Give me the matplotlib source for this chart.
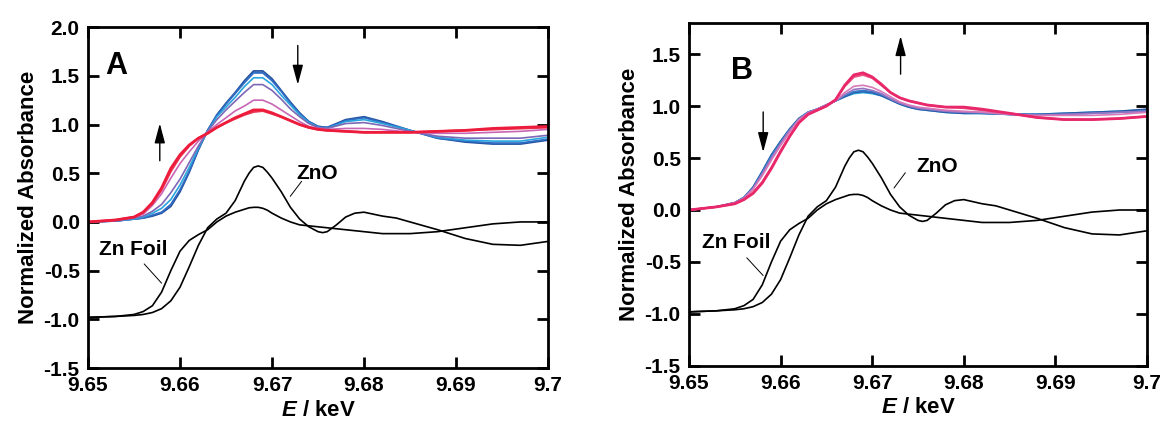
import numpy as np
import matplotlib
matplotlib.use("Agg")
import matplotlib.pyplot as plt

plt.rcParams['font.family'] = ['Liberation Sans', 'DejaVu Sans']
plt.rcParams['font.weight'] = 'bold'
plt.rcParams['mathtext.fontset'] = 'custom'
plt.rcParams['mathtext.it'] = 'Liberation Sans:italic:bold'
plt.rcParams['mathtext.rm'] = 'Liberation Sans:bold'

# energy grid (keV) shared by the sample spectra
energy = [9.650, 9.653, 9.655, 9.656, 9.657, 9.658, 9.659, 9.660, 9.661, 9.662,
          9.663, 9.664, 9.665, 9.666, 9.667, 9.668, 9.669, 9.670, 9.671, 9.672,
          9.673, 9.674, 9.675, 9.676, 9.678, 9.680, 9.682, 9.685, 9.688, 9.691,
          9.694, 9.697, 9.700]

# panel A spectra (blue -> red)
a_dblue = [0.00, 0.01, 0.03, 0.04, 0.06, 0.09, 0.16, 0.31, 0.51, 0.74, 0.94, 1.10, 1.22, 1.33, 1.45, 1.55, 1.55,
           1.47, 1.35, 1.23, 1.12, 1.03, 0.98, 0.97, 1.05, 1.08, 1.03, 0.94, 0.86, 0.82, 0.80, 0.80, 0.84]
a_blue = [0.00, 0.01, 0.03, 0.04, 0.07, 0.10, 0.18, 0.33, 0.52, 0.75, 0.94, 1.09, 1.21, 1.32, 1.43, 1.53, 1.53,
          1.45, 1.34, 1.22, 1.11, 1.03, 0.98, 0.97, 1.04, 1.07, 1.02, 0.94, 0.86, 0.83, 0.81, 0.81, 0.85]
a_cyan = [0.00, 0.01, 0.03, 0.05, 0.09, 0.14, 0.23, 0.38, 0.56, 0.76, 0.93, 1.08, 1.18, 1.28, 1.39, 1.48, 1.48,
          1.41, 1.30, 1.20, 1.10, 1.02, 0.97, 0.96, 1.03, 1.05, 1.01, 0.94, 0.87, 0.84, 0.83, 0.83, 0.87]
a_purple = [0.00, 0.01, 0.04, 0.06, 0.11, 0.18, 0.30, 0.44, 0.61, 0.78, 0.93, 1.05, 1.15, 1.24, 1.33, 1.41, 1.41,
            1.35, 1.26, 1.16, 1.08, 1.01, 0.97, 0.96, 1.01, 1.02, 0.99, 0.93, 0.88, 0.86, 0.86, 0.86, 0.89]
a_pink = [0.00, 0.02, 0.05, 0.08, 0.17, 0.29, 0.45, 0.60, 0.72, 0.83, 0.92, 1.00, 1.07, 1.14, 1.19, 1.25, 1.25,
          1.21, 1.15, 1.09, 1.03, 0.98, 0.96, 0.95, 0.96, 0.96, 0.95, 0.92, 0.91, 0.91, 0.92, 0.93, 0.95]
a_red2 = [0.00, 0.02, 0.05, 0.10, 0.19, 0.33, 0.52, 0.67, 0.78, 0.86, 0.91, 0.97, 1.02, 1.06, 1.10, 1.13, 1.14,
          1.11, 1.08, 1.04, 1.00, 0.97, 0.95, 0.94, 0.93, 0.92, 0.92, 0.92, 0.93, 0.94, 0.95, 0.96, 0.97]
a_red = [0.00, 0.02, 0.05, 0.10, 0.20, 0.35, 0.55, 0.69, 0.79, 0.86, 0.91, 0.97, 1.02, 1.07, 1.11, 1.15, 1.15,
         1.12, 1.08, 1.04, 1.00, 0.97, 0.95, 0.94, 0.93, 0.92, 0.92, 0.92, 0.93, 0.94, 0.96, 0.97, 0.98]

# panel B spectra (blue -> red)
b_cyan = [0.00, 0.03, 0.07, 0.12, 0.22, 0.37, 0.53, 0.66, 0.78, 0.88, 0.94, 0.97, 1.01, 1.05, 1.09, 1.12, 1.13,
          1.12, 1.10, 1.06, 1.02, 0.99, 0.97, 0.96, 0.94, 0.93, 0.93, 0.92, 0.92, 0.93, 0.94, 0.95, 0.96]
b_dblue = [0.00, 0.03, 0.07, 0.12, 0.22, 0.37, 0.53, 0.66, 0.78, 0.88, 0.94, 0.97, 1.01, 1.05, 1.09, 1.13, 1.14,
           1.13, 1.10, 1.06, 1.02, 0.99, 0.97, 0.96, 0.94, 0.93, 0.93, 0.92, 0.92, 0.93, 0.94, 0.95, 0.97]
b_blue = [0.00, 0.03, 0.07, 0.12, 0.21, 0.36, 0.52, 0.65, 0.77, 0.88, 0.94, 0.97, 1.01, 1.05, 1.10, 1.14, 1.15,
          1.14, 1.11, 1.07, 1.03, 1.00, 0.98, 0.97, 0.95, 0.94, 0.93, 0.92, 0.92, 0.92, 0.93, 0.94, 0.95]
b_purple = [0.00, 0.03, 0.07, 0.12, 0.21, 0.35, 0.50, 0.64, 0.77, 0.87, 0.94, 0.97, 1.01, 1.05, 1.11, 1.16, 1.17,
            1.15, 1.12, 1.07, 1.03, 1.00, 0.98, 0.97, 0.95, 0.94, 0.94, 0.92, 0.91, 0.92, 0.93, 0.94, 0.95]
b_pink = [0.00, 0.03, 0.07, 0.11, 0.20, 0.33, 0.48, 0.62, 0.75, 0.87, 0.93, 0.97, 1.01, 1.05, 1.13, 1.19, 1.20,
          1.18, 1.14, 1.09, 1.04, 1.01, 0.99, 0.98, 0.96, 0.95, 0.94, 0.92, 0.91, 0.91, 0.91, 0.92, 0.94]
b_red2 = [0.00, 0.03, 0.06, 0.10, 0.17, 0.27, 0.41, 0.57, 0.71, 0.84, 0.92, 0.96, 1.00, 1.06, 1.19, 1.28, 1.30,
          1.27, 1.20, 1.13, 1.08, 1.05, 1.03, 1.01, 0.99, 0.98, 0.96, 0.93, 0.89, 0.87, 0.87, 0.88, 0.90]
b_red = [0.00, 0.03, 0.06, 0.10, 0.16, 0.26, 0.40, 0.56, 0.71, 0.84, 0.92, 0.96, 1.00, 1.06, 1.20, 1.30, 1.32,
         1.28, 1.21, 1.13, 1.08, 1.05, 1.03, 1.01, 0.99, 0.99, 0.97, 0.93, 0.89, 0.87, 0.87, 0.88, 0.90]

# reference spectra (offset by -1), finer energy grid
ref_energy = [9.650, 9.653, 9.655, 9.656, 9.657, 9.658, 9.659, 9.660, 9.661, 9.662, 9.663, 9.664, 9.665,
              9.666, 9.667, 9.6675, 9.668, 9.6685, 9.669, 9.6695, 9.670, 9.671, 9.672, 9.673, 9.674, 9.675,
              9.6755, 9.676, 9.677, 9.678, 9.679, 9.680, 9.681, 9.682, 9.6835, 9.685, 9.688, 9.691, 9.694,
              9.697, 9.700]
zno = [-0.98, -0.97, -0.96, -0.95, -0.93, -0.89, -0.81, -0.67, -0.46, -0.24, -0.06, 0.03, 0.09,
       0.22, 0.42, 0.50, 0.56, 0.575, 0.56, 0.51, 0.45, 0.31, 0.15, 0.03, -0.05, -0.10,
       -0.11, -0.10, -0.03, 0.05, 0.09, 0.10, 0.08, 0.06, 0.04, 0.00, -0.08, -0.17, -0.23,
       -0.24, -0.20]
zn_foil = [-0.98, -0.97, -0.95, -0.92, -0.86, -0.72, -0.50, -0.30, -0.19, -0.13, -0.08, 0.00, 0.06,
           0.10, 0.13, 0.145, 0.15, 0.15, 0.14, 0.12, 0.09, 0.04, 0.00, -0.03, -0.04, -0.05,
           -0.055, -0.06, -0.07, -0.08, -0.09, -0.10, -0.11, -0.12, -0.12, -0.12, -0.10, -0.06, -0.02,
           0.00, 0.00]

xticks = [9.65, 9.66, 9.67, 9.68, 9.69, 9.70]
xticklabels = ['9.65', '9.66', '9.67', '9.68', '9.69', '9.7']

a_series = [(a_dblue, '#24509f', 1.3), (a_blue, '#2f6cc2', 1.3), (a_cyan, '#2aa4de', 1.2),
            (a_purple, '#7d68b6', 1.2), (a_pink, '#c866b6', 1.2), (a_red2, '#ec3a55', 1.6),
            (a_red, '#ee1c3c', 2.0)]
b_series = [(b_cyan, '#2eaae2', 1.3), (b_dblue, '#2a5aa8', 1.3), (b_blue, '#3a7cc8', 1.2),
            (b_purple, '#9474c2', 1.2), (b_pink, '#d678ba', 1.2), (b_red2, '#ec5080', 1.5),
            (b_red, '#e8286a', 2.0)]

fig = plt.figure(figsize=(11.66, 4.24), dpi=100)
axA = fig.add_axes([0.0755, 0.132, 0.3945, 0.804])
axB = fig.add_axes([0.5909, 0.137, 0.3928, 0.809])


def setup(ax, ylim, yticks):
    ax.set_xlim(9.65, 9.70)
    ax.set_ylim(*ylim)
    ax.set_xticks(xticks)
    ax.set_xticklabels(xticklabels)
    ax.set_yticks(yticks)
    ax.set_yticklabels(['%.1f' % v for v in yticks])
    ax.tick_params(direction='in', length=8, width=2, labelsize=15, top=True, right=True, pad=6)
    for s in ax.spines.values():
        s.set_linewidth(2)
    ax.set_xlabel(r'$\it{E}$ / keV', fontsize=16, fontweight='bold', labelpad=3)
    ax.set_ylabel('Normalized Absorbance', fontsize=16, fontweight='bold', labelpad=3)


for ax, series in ((axA, a_series), (axB, b_series)):
    for y, c, lw in series:
        ax.plot(energy, y, color=c, lw=lw)
    ax.plot(ref_energy, zno, color='black', lw=1.2)
    ax.plot(ref_energy, zn_foil, color='black', lw=1.2)

setup(axA, (-1.5, 2.0), [-1.5, -1.0, -0.5, 0.0, 0.5, 1.0, 1.5, 2.0])
setup(axB, (-1.5, 1.8), [-1.5, -1.0, -0.5, 0.0, 0.5, 1.0, 1.5])

arrow = dict(arrowstyle='-|>,head_length=0.6,head_width=0.16', color='black', lw=1.0, mutation_scale=20)
leader = dict(arrowstyle='-', color='black', lw=0.7)

# panel A labels and arrows
axA.text(9.6531, 1.60, 'A', fontsize=22, fontweight='bold', ha='center', va='center')
axA.annotate('', xy=(9.6578, 1.04), xytext=(9.6578, 0.60), arrowprops=arrow)
axA.annotate('', xy=(9.6728, 1.38), xytext=(9.6728, 1.84), arrowprops=arrow)
axA.text(9.6749, 0.50, 'ZnO', fontsize=15, fontweight='bold', ha='center', va='center')
axA.annotate('', xy=(9.6718, 0.24), xytext=(9.6734, 0.44), arrowprops=leader)
axA.text(9.6549, -0.28, 'Zn Foil', fontsize=15, fontweight='bold', ha='center', va='center')
axA.annotate('', xy=(9.6582, -0.65), xytext=(9.6559, -0.41), arrowprops=leader)

# panel B labels and arrows
axB.text(9.6558, 1.34, 'B', fontsize=22, fontweight='bold', ha='center', va='center')
axB.annotate('', xy=(9.6581, 0.53), xytext=(9.6581, 0.97), arrowprops=arrow)
axB.annotate('', xy=(9.6731, 1.70), xytext=(9.6731, 1.28), arrowprops=arrow)
axB.text(9.6771, 0.42, 'ZnO', fontsize=15, fontweight='bold', ha='center', va='center')
axB.annotate('', xy=(9.6722, 0.19), xytext=(9.6738, 0.38), arrowprops=leader)
axB.text(9.6552, -0.31, 'Zn Foil', fontsize=15, fontweight='bold', ha='center', va='center')
axB.annotate('', xy=(9.6583, -0.65), xytext=(9.6561, -0.44), arrowprops=leader)

fig.savefig('out.png', dpi=100)
